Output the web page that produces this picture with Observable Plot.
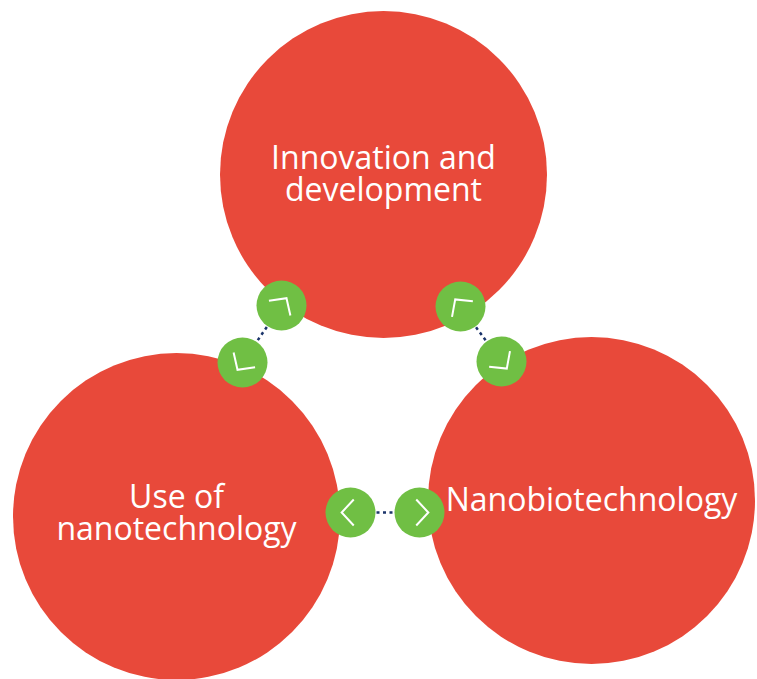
<!DOCTYPE html>
<html>
<head>
<meta charset="utf-8">
<script src="https://cdn.jsdelivr.net/npm/d3@7"></script>
<script src="https://cdn.jsdelivr.net/npm/@observablehq/plot@0.6"></script>
<style>
  html, body { margin: 0; padding: 0; background: #fff; overflow: hidden; }
  #chart svg { display: block; }
</style>
</head>
<body>
<div id="chart"></div>
<script>
// Main topic circles
const topicLabels = ["Innovation and\ndevelopment", "Use of\nnanotechnology", "Nanobiotechnology"];
const topicX = [383, 176, 591];
const topicY = [174, 516, 500];
const labelY = [174, 513, 500];

// Connector (green) nodes, in pairs
const nodeX = [281, 242, 460, 501, 350, 419];
const nodeY = [305, 362, 306, 361, 512, 512];
const nodePartner = [1, 0, 3, 2, 5, 4];

const topics = topicLabels.map((label, i) => ({label, x: topicX[i], y: topicY[i], ly: labelY[i]}));
const nodes = nodeX.map((x, i) => {
  const p = nodePartner[i];
  const angle = Math.atan2(nodeY[i] - nodeY[p], x - nodeX[p]) * 180 / Math.PI;
  return {x, y: nodeY[i], angle};
});
const links = [[0, 1], [2, 3], [4, 5]].map(([a, b]) => ({x1: nodeX[a], y1: nodeY[a], x2: nodeX[b], y2: nodeY[b]}));

const chevron = {
  draw(ctx, size) {
    const s = Math.sqrt(size / Math.PI);
    ctx.moveTo(-0.25 * s, -s);
    ctx.lineTo(0.68 * s, 0);
    ctx.lineTo(-0.25 * s, s);
  }
};

const chart = Plot.plot({
  width: 757,
  height: 679,
  margin: 0,
  x: {domain: [0, 757], range: [0, 757], axis: null},
  y: {domain: [0, 679], range: [0, 679], axis: null},
  style: {background: "#ffffff"},
  marks: [
    Plot.dot(topics, {x: "x", y: "y", r: 163.5, fill: "#e8493a", stroke: "none"}),
    Plot.link(links, {x1: "x1", y1: "y1", x2: "x2", y2: "y2", stroke: "#1c356b", strokeWidth: 2.5, strokeDasharray: "3,3.5"}),
    Plot.dot(nodes, {x: "x", y: "y", r: 25, fill: "#70bf44", stroke: "none"}),
    Plot.dot(nodes, {x: "x", y: "y", r: 13, symbol: chevron, rotate: "angle", fill: "none", stroke: "#ffffff", strokeWidth: 2}),
    Plot.text(topics, {x: "x", y: "ly", text: "label", fill: "#ffffff", fontSize: 32, lineHeight: 1.02, fontFamily: "Open Sans", textAnchor: "middle"})
  ]
});
document.getElementById("chart").append(chart);
</script>
</body>
</html>
